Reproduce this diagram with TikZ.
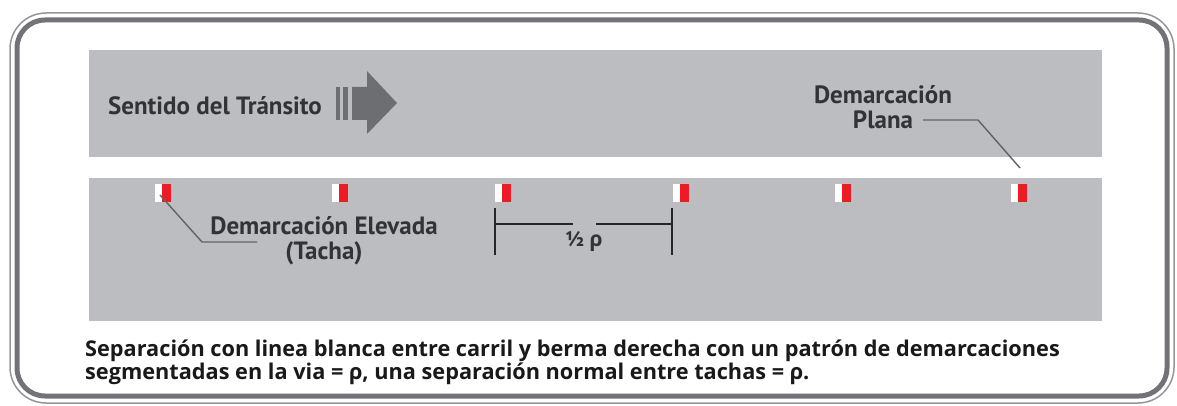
\documentclass[tikz,border=0pt]{standalone}
\usepackage{fontspec}
\setmainfont{PT Sans}
\newfontfamily\rhofont{Open Sans}
\newfontfamily\captionfont{Open Sans}
\usepackage{tikz}
\usetikzlibrary{positioning,calc}
\definecolor{Road}{HTML}{BCBDC0}
\definecolor{Ink}{HTML}{333335}
\definecolor{Arrow}{HTML}{6D6E71}
\definecolor{Frame}{HTML}{727376}
\definecolor{TachaRed}{HTML}{ED1C24}
\newcommand{\rh}{{\rhofont\bfseries ρ}}

\begin{document}
\begin{tikzpicture}[x=1pt,y=-1pt,
    lbl/.style={font=\fontsize{25}{25}\selectfont\bfseries,text=Ink,align=center,inner sep=0},
    tacha/.style={minimum width=16pt,minimum height=18pt,inner sep=0,fill=white,
      path picture={\fill[TachaRed] ([xshift=7pt]path picture bounding box.south west) rectangle (path picture bounding box.north east);}},
    leader/.style={draw=Arrow!90!black,line width=1.4pt},
    dim/.style={draw=black!85,line width=1.3pt}]
    \useasboundingbox (0,0) rectangle (1177,406);
    % frame
    \draw[Frame!75,line width=1.5pt,rounded corners=36pt] (10,13) rectangle (1174,403);
    \draw[Frame,line width=5pt,rounded corners=28pt] (17,20) rectangle (1167,396);
    % road bands
    \fill[Road] (89,50) rectangle (1102,157);
    \fill[Road] (89,178) rectangle (1102,321);
    % direction arrow
    \fill[Arrow] (336,87) rectangle (340,120);
    \fill[Arrow] (343,87) rectangle (348,120);
    \fill[Arrow] (352,87) -- (367,87) -- (367,71) -- (397,103) -- (367,134) -- (367,120) -- (352,120) -- cycle;
    \node[lbl] (transito) at (215,106) {Sentido del Tránsito};
    % tachas
    \foreach \x [count=\i] in {163,340,503,681,843,1019}
      \node[tacha] (t\i) at (\x,193) {};
    % labels
    \node[lbl] (elevada) at (324,241) {Demarcación Elevada\\(Tacha)};
    \node[lbl] (plana) at (883,107) {Demarcación\\Plana};
    \coordinate (planaA) at (923,120);
    \coordinate (planaB) at (978,120);
    \coordinate (planaC) at (1020,168);
    \draw[leader] (planaA) -- (planaB) -- (planaC);
    \coordinate (elevB) at (202,242);
    \coordinate (elevC) at (257,242);
    \draw[leader] ([shift={(-3,2)}]t1.center) -- (elevB) -- (elevC);
    % half spacing
    \coordinate (dimL) at (495,224);
    \coordinate (dimR) at (672,224);
    \coordinate (gapL) at (573,224);
    \coordinate (gapR) at (596,224);
    \node[font=\fontsize{21}{21}\selectfont\bfseries,text=Ink,inner sep=0] (half) at (584,242) {½ \rh};
    \draw[dim] ([yshift=-31pt]dimL) -- ([yshift=16pt]dimL);
    \draw[dim] ([yshift=-31pt]dimR) -- ([yshift=16pt]dimR);
    \draw[dim] (dimL) -- (gapL);
    \draw[dim] (dimR) -- (gapR);
    % caption
    \node[font=\captionfont\fontsize{21.7}{21}\selectfont\bfseries,text=black!90,align=left,anchor=north west,inner sep=0] (caption) at (85,340)
      {Separación con linea blanca entre carril y berma derecha con un patrón de demarcaciones\\
       segmentadas en la via = ρ, una separación normal entre tachas = ρ.};
\end{tikzpicture}
\end{document}
